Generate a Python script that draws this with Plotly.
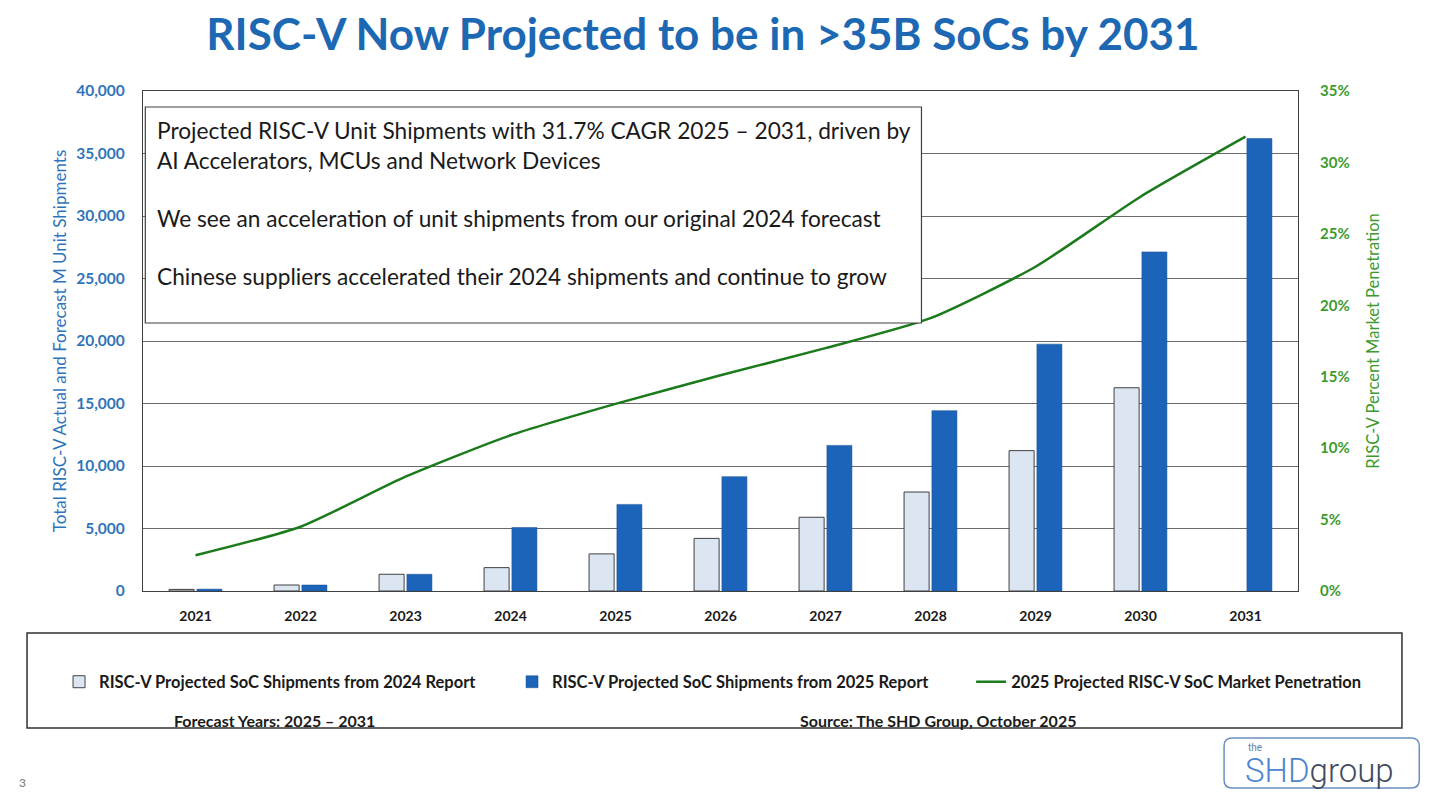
import plotly.graph_objects as go

# Chart data
years = ["2021", "2022", "2023", "2024", "2025", "2026", "2027", "2028", "2029", "2030", "2031"]
ship_2024_report = [130, 480, 1340, 1870, 2970, 4210, 5900, 7920, 11230, 16260, None]
ship_2025_report = [150, 480, 1340, 5080, 6930, 9150, 11650, 14430, 19750, 27130, 36200]
penetration_pct = [2.5, 4.5, 8.0, 10.9, 13.1, 15.1, 17.0, 19.1, 22.7, 27.6, 31.8]

left_ticks = [0, 5000, 10000, 15000, 20000, 25000, 30000, 35000, 40000]
right_ticks = [0, 5, 10, 15, 20, 25, 30, 35]
right_labels = ["0%", "5%", "10%", "15%", "20%", "25%", "30%", "35%"]

notes = [
    "Projected RISC-V Unit Shipments with 31.7% CAGR 2025 \u2013 2031, driven by",
    "AI Accelerators, MCUs and Network Devices",
    "We see an acceleration of unit shipments from our original 2024 forecast",
    "Chinese suppliers accelerated their 2024 shipments and continue to grow",
]

FONT = "Lato"
BLUE_TXT = "#2F74B8"
GREEN_TXT = "#3C9A2E"

fig = go.Figure()

fig.add_trace(go.Bar(
    x=years, y=ship_2024_report,
    name="RISC-V Projected SoC Shipments from 2024 Report", legend="legend",
    marker=dict(color="#DCE6F2", line=dict(color="#404040", width=1)),
))
fig.add_trace(go.Bar(
    x=years, y=ship_2025_report,
    name="RISC-V Projected SoC Shipments from 2025 Report", legend="legend2",
    marker=dict(color="#1C64B9", line=dict(color="#174f93", width=0.5)),
))
fig.add_trace(go.Scatter(
    x=years, y=penetration_pct, yaxis="y2", mode="lines", legend="legend3",
    line=dict(color="#1B7A1B", width=2.5, shape="spline", smoothing=0.6),
    name="2025 Projected RISC-V SoC Market Penetration",
))

# note box inside the plot
fig.add_shape(type="rect", xref="paper", yref="paper",
              x0=0.002, x1=0.674, y0=0.536, y1=0.968,
              fillcolor="white", line=dict(color="#404040", width=1.2), layer="above")
note_y = [0.92, 0.862, 0.746, 0.63]
for txt, yy in zip(notes, note_y):
    fig.add_annotation(text=txt, xref="paper", yref="paper", x=0.0104, y=yy,
                       xanchor="left", yanchor="middle", showarrow=False,
                       font=dict(family=FONT, size=22.7, color="#1a1a1a"))

# legend frame below the plot
fig.add_shape(type="rect", xref="paper", yref="paper",
              x0=-0.1004, x1=1.090, y0=-0.274, y1=-0.084,
              line=dict(color="#303030", width=1.5))
fig.add_annotation(text="Forecast Years: 2025 \u2013 2031", xref="paper", yref="paper",
                   x=0.0251, y=-0.258, xanchor="left", yanchor="middle", showarrow=False,
                   font=dict(family=FONT, size=16, color="#1a1a1a", weight="bold"))
fig.add_annotation(text="Source: The SHD Group, October 2025", xref="paper", yref="paper",
                   x=0.567, y=-0.258, xanchor="left", yanchor="middle", showarrow=False,
                   font=dict(family=FONT, size=16, color="#1a1a1a", weight="bold"))

# logo
fig.add_shape(type="path", xref="paper", yref="paper",
              path="M 0.943 -0.294 L 1.098 -0.294 Q 1.105 -0.294 1.105 -0.310 L 1.105 -0.378 "
                   "Q 1.105 -0.394 1.098 -0.394 L 0.943 -0.394 Q 0.936 -0.394 0.936 -0.378 "
                   "L 0.936 -0.310 Q 0.936 -0.294 0.943 -0.294 Z",
              line=dict(color="#6d8fc4", width=1.5))
fig.add_annotation(text="the", xref="paper", yref="paper", x=0.955, y=-0.312,
                   xanchor="left", yanchor="middle", showarrow=False,
                   font=dict(family="Roboto", size=10, color="#5f7fb0"))
fig.add_annotation(text="<span style='color:#4F84CF'>SHD</span><span style='color:#3f4a5e'>group</span>",
                   xref="paper", yref="paper", x=0.952, y=-0.359,
                   xanchor="left", yanchor="middle", showarrow=False,
                   font=dict(family="Roboto", size=33, color="#4F84CF", weight=300))
fig.add_annotation(text="3", xref="paper", yref="paper", x=-0.109, y=-0.382,
                   xanchor="left", yanchor="middle", showarrow=False,
                   font=dict(family=FONT, size=12, color="#777777"))

legend_font = dict(family=FONT, size=16.5, color="#1a1a1a", weight="bold")
fig.update_layout(
    width=1423, height=782,
    margin=dict(l=135, r=133, t=83, b=199),
    paper_bgcolor="white", plot_bgcolor="white",
    title=dict(text="<b>RISC-V Now Projected to be in >35B SoCs by 2031</b>",
               x=0.4848, xref="paper", xanchor="center", y=0.9655, yanchor="middle",
               font=dict(family=FONT, size=44, color="#1D68B3")),
    barmode="group", bargap=0.47, bargroupgap=0.1,
    xaxis=dict(showline=True, linecolor="#404040", linewidth=1.2, mirror=True,
               ticks="", ticklabelstandoff=12,
               tickfont=dict(family=FONT, size=14, color="#1a1a1a", weight="bold")),
    yaxis=dict(range=[0, 40000], tickvals=left_ticks, tickformat=",",
               showgrid=True, gridcolor="#6a6a6a", gridwidth=1,
               showline=True, linecolor="#404040", linewidth=1.2,
               zeroline=False, ticklen=0, ticklabelstandoff=14,
               tickfont=dict(family=FONT, size=15.5, color=BLUE_TXT, weight="bold"),
               title=dict(text="Total RISC-V Actual and Forecast M Unit Shipments",
                          font=dict(family=FONT, size=17, color=BLUE_TXT), standoff=5)),
    yaxis2=dict(range=[0, 35], tickvals=right_ticks, ticktext=right_labels,
                overlaying="y", side="right", showgrid=False,
                showline=True, linecolor="#404040", linewidth=1.2,
                zeroline=False, ticklen=0, ticklabelstandoff=18,
                tickfont=dict(family=FONT, size=15, color=GREEN_TXT, weight="bold"),
                title=dict(text="RISC-V Percent Market Penetration",
                           font=dict(family=FONT, size=16.5, color=GREEN_TXT), standoff=18)),
    legend=dict(x=-0.0727, y=-0.182, xanchor="left", yanchor="middle",
                bgcolor="rgba(0,0,0,0)", font=legend_font),
    legend2=dict(x=0.3195, y=-0.182, xanchor="left", yanchor="middle",
                 bgcolor="rgba(0,0,0,0)", font=legend_font),
    legend3=dict(x=0.717, y=-0.182, xanchor="left", yanchor="middle",
                 bgcolor="rgba(0,0,0,0)", font=legend_font),
    showlegend=True,
)

fig.write_html("out.html")
